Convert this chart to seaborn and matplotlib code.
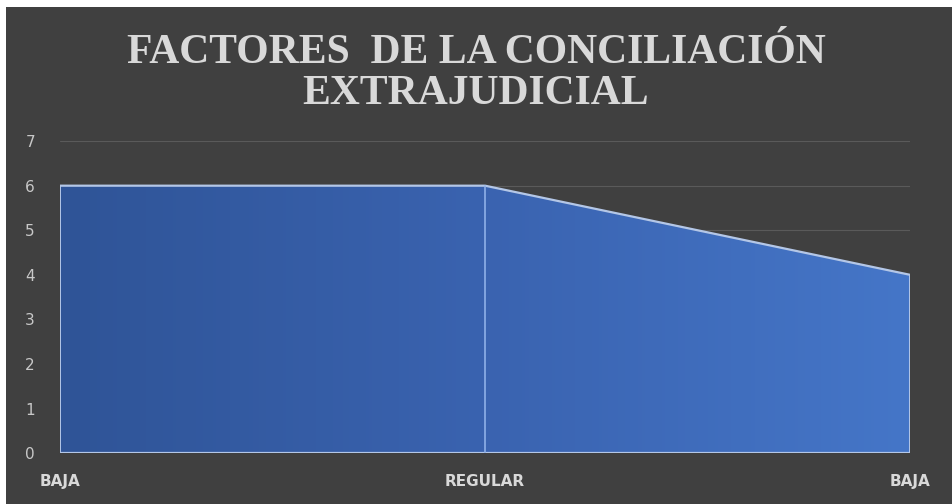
import matplotlib
matplotlib.use("Agg")
import matplotlib.pyplot as plt
import seaborn as sns
import numpy as np
import pandas as pd
from matplotlib.colors import LinearSegmentedColormap
from matplotlib.patches import Polygon

categories = ["BAJA", "REGULAR", "BAJA"]
values = [6, 6, 4]
title = "FACTORES  DE LA CONCILIACIÓN\nEXTRAJUDICIAL"

sns.set_theme(style="dark")
bg = "#404040"
txt = "#d9d9d9"

fig = plt.figure(figsize=(9.52, 5.04), dpi=100, facecolor="white")
# dark panel with thin white border at top/left
panel = fig.add_axes([0.006, 0.0, 0.994, 0.986])
panel.set_facecolor(bg)
panel.set_xticks([]); panel.set_yticks([])
for s in panel.spines.values():
    s.set_visible(False)

ax = fig.add_axes([0.063, 0.101, 0.893, 0.619])
ax.set_facecolor(bg)
ax.patch.set_alpha(0)

pos = np.arange(len(values))
df = pd.DataFrame({"pos": pos, "value": values})

# gradient area
verts = [(pos[0], 0)] + list(zip(pos, values)) + [(pos[-1], 0)]
poly = Polygon(verts, closed=True, facecolor="none", edgecolor="none")
ax.add_patch(poly)
cmap = LinearSegmentedColormap.from_list("g", ["#2f5497", "#3a63b0", "#4576c8"])
grad = np.linspace(0, 1, 256).reshape(1, -1)
im = ax.imshow(grad, cmap=cmap, aspect="auto", extent=[pos[0], pos[-1], 0, max(values)],
               origin="lower", zorder=2)
im.set_clip_path(poly)

edge = "#b4c7e7"
sns.lineplot(data=df, x="pos", y="value", ax=ax, color=edge, linewidth=1.6, zorder=4)
ax.plot([pos[0], pos[0]], [0, values[0]], color=edge, lw=1.4, zorder=4)
ax.plot([pos[-1], pos[-1]], [0, values[-1]], color=edge, lw=1.4, zorder=4)
ax.plot([pos[0], pos[-1]], [0, 0], color=edge, lw=1.6, zorder=4)
ax.plot([pos[1], pos[1]], [0, values[1]], color="#8fb0e8", lw=1.2, zorder=4)

ax.set_xlim(pos[0], pos[-1])
ax.set_ylim(0, 7)
ax.set_yticks(range(0, 8))
ax.grid(axis="y", color="#5a5a5a", lw=0.8, zorder=1)
ax.grid(axis="x", visible=False)
ax.set_xticks(pos)
ax.set_xticklabels(categories, fontsize=11, fontweight="bold", color=txt, family="DejaVu Sans")
ax.tick_params(axis="y", labelsize=11, colors="#c8c8c8", pad=18, length=0)
ax.tick_params(axis="x", pad=15, length=0)
ax.set_xlabel(""); ax.set_ylabel("")
for s in ax.spines.values():
    s.set_visible(False)

fig.text(0.5, 0.855, title, ha="center", va="center", fontsize=30, fontweight="bold",
         family="Liberation Serif", color=txt, linespacing=1.1)

fig.savefig("out.png", dpi=100, facecolor="white")
